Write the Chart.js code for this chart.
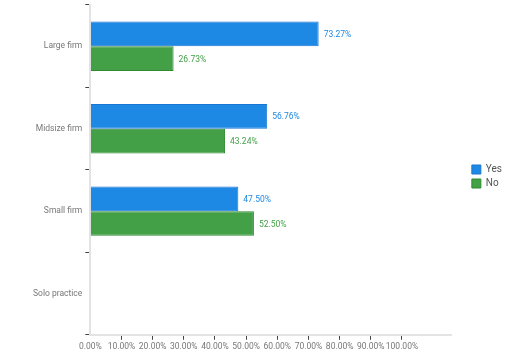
<!DOCTYPE html>
<html>
<head>
<meta charset="utf-8">
<script src="https://cdn.jsdelivr.net/npm/chart.js@4/dist/chart.umd.min.js"></script>
<style>
html,body{margin:0;padding:0;background:#fff;}
#wrap{width:512px;height:358px;position:relative;}
</style>
</head>
<body>
<div id="wrap"><canvas id="c" width="512" height="358"></canvas></div>
<script>
const categories = ["Large firm", "Midsize firm", "Small firm", "Solo practice"];
const seriesNames = ["Yes", "No"];
const yesValues = [73.27, 56.76, 47.50, null];
const noValues = [26.73, 43.24, 52.50, null];
const xTickValues = [0, 10, 20, 30, 40, 50, 60, 70, 80, 90, 100];

const FONT = "Roboto, sans-serif";
const BLUE = "#1e88e5", BLUE_B = "#1976d2";
const GREEN = "#43a047", GREEN_B = "#2e8b2e";
const LEGEND_GAP = 16;

const labelPlugin = {
  id: "barLabels",
  afterDatasetsDraw(chart) {
    const ctx = chart.ctx;
    ctx.save();
    ctx.font = "8.5px " + FONT;
    ctx.textBaseline = "middle";
    ctx.textAlign = "left";
    chart.data.datasets.forEach((ds, di) => {
      const meta = chart.getDatasetMeta(di);
      meta.data.forEach((bar, i) => {
        const v = ds.data[i];
        if (v == null) return;
        ctx.fillStyle = ds.backgroundColor;
        ctx.fillText(v.toFixed(2) + "%", bar.x + 5, bar.y + 1);
      });
    });
    ctx.restore();
  }
};

const legendGapPlugin = {
  id: "legendGap",
  beforeLayout(chart) {
    const lg = chart.legend;
    if (lg && !lg._gapPatched) {
      const f = lg.fit;
      lg.fit = function () { f.call(this); this.width += LEGEND_GAP; };
      lg._gapPatched = true;
    }
  },
  afterLayout(chart) {
    const lg = chart.legend;
    if (lg) { lg.left += LEGEND_GAP; lg.top -= 3; lg.bottom -= 3; }
  }
};

function noScalePadding(axis) {
  axis.paddingTop = 0; axis.paddingBottom = 0; axis.paddingLeft = 0; axis.paddingRight = 0;
}

new Chart(document.getElementById("c"), {
  type: "bar",
  data: {
    labels: categories,
    datasets: [
      { label: seriesNames[0], data: yesValues, backgroundColor: BLUE, borderColor: BLUE_B, borderWidth: 1 },
      { label: seriesNames[1], data: noValues, backgroundColor: GREEN, borderColor: GREEN_B, borderWidth: 1 }
    ]
  },
  options: {
    indexAxis: "y",
    responsive: false,
    animation: false,
    devicePixelRatio: 1,
    categoryPercentage: 0.6,
    barPercentage: 1.0,
    layout: { padding: { top: 5, left: 30, right: 0, bottom: 4 } },
    plugins: {
      legend: {
        position: "right",
        labels: { boxWidth: 9, boxHeight: 9, padding: 4, color: "#555", font: { family: FONT, size: 10 } }
      },
      tooltip: { enabled: false }
    },
    scales: {
      x: {
        min: 0,
        max: 116,
        afterBuildTicks(axis) { axis.ticks = xTickValues.map(v => ({ value: v })); },
        afterFit: noScalePadding,
        ticks: { color: "#777", font: { family: FONT, size: 8.5 }, padding: 2, maxRotation: 0, autoSkip: false,
          callback: v => Number(v).toFixed(2) + "%" },
        grid: { drawOnChartArea: false, tickLength: 5, color: ctx => ctx.index === 0 ? "rgba(0,0,0,0)" : "#444" },
        border: { color: "#e3e3e3", width: 2 }
      },
      y: {
        afterFit: noScalePadding,
        ticks: { color: "#777", font: { family: FONT, size: 8.5 }, padding: 3 },
        grid: { drawOnChartArea: false, tickLength: 5, offset: true, color: ctx => ctx.index === 4 ? "rgba(0,0,0,0)" : "#444" },
        border: { color: "#e3e3e3", width: 2 }
      }
    }
  },
  plugins: [labelPlugin, legendGapPlugin]
});
</script>
</body>
</html>
